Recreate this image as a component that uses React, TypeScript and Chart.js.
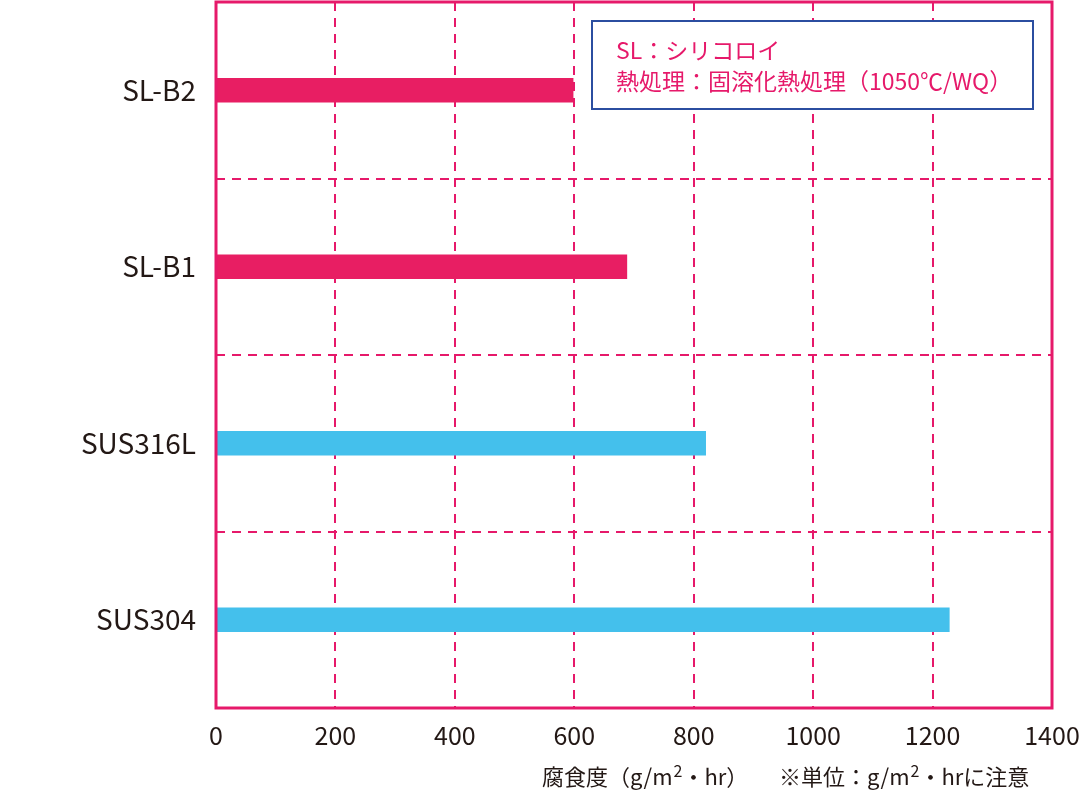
import React, { useEffect, useRef } from "react";
import { Chart, registerables } from "chart.js";

Chart.register(...registerables);

const categories = ["SL-B2", "SL-B1", "SUS316L", "SUS304"];
const corrosionValues = [598, 688, 820, 1228];
const barColors = ["#E81E63", "#E81E63", "#44C0EC", "#44C0EC"];
const xTickValues = [0, 200, 400, 600, 800, 1000, 1200, 1400];
const legendLines = ["SL：シリコロイ", "熱処理：固溶化熱処理（1050℃/WQ）"];
const axisTitleMain = ["腐食度（g/m", "2", "・hr）"];
const axisTitleNote = ["※単位：g/m", "2", "・hrに注意"];

const PINK = "#E6196A";
const FONT = "'Noto Sans CJK JP', 'Noto Sans', sans-serif";

const decorPlugin = {
  id: "decor",
  afterDraw(chart: any) {
    const { ctx, chartArea } = chart;
    ctx.save();
    // outer frame
    ctx.strokeStyle = PINK;
    ctx.lineWidth = 3;
    ctx.strokeRect(chartArea.left, chartArea.top, chartArea.right - chartArea.left, chartArea.bottom - chartArea.top);

    // legend box
    const bx = 592, by = 21, bw = 441, bh = 88;
    ctx.fillStyle = "#ffffff";
    ctx.fillRect(bx, by, bw, bh);
    ctx.strokeStyle = "#2B4EA0";
    ctx.lineWidth = 2;
    ctx.strokeRect(bx, by, bw, bh);
    ctx.fillStyle = PINK;
    ctx.font = `23px ${FONT}`;
    ctx.textBaseline = "alphabetic";
    ctx.textAlign = "left";
    ctx.fillText(legendLines[0], 616, 59);
    ctx.fillText(legendLines[1], 616, 90);

    // bottom titles with superscript
    const drawSup = (parts: string[], x: number, y: number) => {
      ctx.fillStyle = "#231815";
      ctx.font = `22px ${FONT}`;
      ctx.fillText(parts[0], x, y);
      let cx = x + ctx.measureText(parts[0]).width;
      ctx.font = `16px ${FONT}`;
      ctx.fillText(parts[1], cx + 1, y - 8);
      cx += ctx.measureText(parts[1]).width + 1;
      ctx.font = `22px ${FONT}`;
      ctx.fillText(parts[2], cx, y);
    };
    drawSup(axisTitleMain, 542, 785);
    drawSup(axisTitleNote, 779, 785);
    ctx.restore();
  },
};

export default function App() {
  const canvasRef = useRef<HTMLCanvasElement | null>(null);

  useEffect(() => {
    if (!canvasRef.current) return;
    const chart = new Chart(canvasRef.current, {
      type: "bar",
      data: {
        labels: categories,
        datasets: [
          {
            data: corrosionValues,
            backgroundColor: barColors,
            borderWidth: 0,
            barThickness: 24,
          },
        ],
      },
      plugins: [decorPlugin],
      options: {
        indexAxis: "y",
        animation: false,
        responsive: false,
        maintainAspectRatio: false,
        layout: { padding: { top: 2, right: 28, left: 0, bottom: 0 } },
        plugins: {
          legend: { display: false },
          tooltip: { enabled: false },
        },
        scales: {
          x: {
            type: "linear",
            min: 0,
            max: 1400,
            afterBuildTicks: (scale: any) => {
              scale.ticks = xTickValues.map((v) => ({ value: v }));
            },
            afterFit: (scale: any) => {
              scale.height = 87;
              scale.paddingLeft = 0;
              scale.paddingRight = 0;
              scale.paddingTop = 0;
              scale.paddingBottom = 0;
            },
            grid: {
              color: PINK,
              lineWidth: 2,
              drawTicks: false,
            },
            border: { display: false, dash: [9, 7] },
            ticks: {
              color: "#231815",
              font: { family: FONT, size: 25 },
              padding: 12,
              maxRotation: 0,
              callback: (v: any) => String(v),
            },
          },
          y: {
            type: "category",
            afterFit: (scale: any) => {
              scale.width = 216;
              scale.paddingLeft = 0;
              scale.paddingRight = 0;
              scale.paddingTop = 0;
              scale.paddingBottom = 0;
            },
            grid: {
              color: PINK,
              lineWidth: 2,
              drawTicks: false,
              offset: true,
            },
            border: { display: false, dash: [9, 7] },
            ticks: {
              color: "#231815",
              font: { family: FONT, size: 28 },
              padding: 20,
            },
          },
        },
      } as any,
    });
    return () => chart.destroy();
  }, []);

  return (
    <div style={{ position: "absolute", left: 0, top: 0, width: 1080, height: 795, background: "#fff" }}>
      <canvas ref={canvasRef} width={1080} height={795} style={{ width: 1080, height: 795 }} />
    </div>
  );
}
